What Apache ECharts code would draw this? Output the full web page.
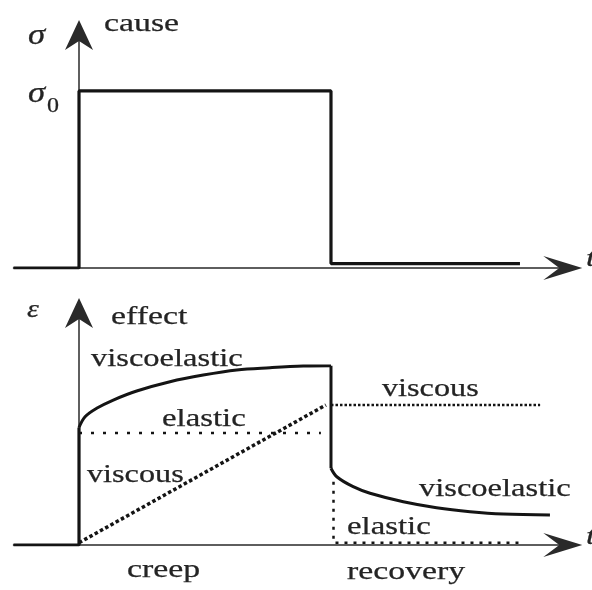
<!DOCTYPE html>
<html>
<head>
<meta charset="utf-8">
<script src="https://cdn.jsdelivr.net/npm/echarts@6/dist/echarts.min.js"></script>
<style>
  html, body { margin: 0; padding: 0; background: #fff; }
  #chart { width: 592px; height: 590px; }
</style>
</head>
<body>
<div id="chart"></div>
<script>
// Stress input (cause): a constant load σ0 applied at t = 0 and removed at t = 10
const stressPulse = [[-2.6, 0], [0, 0], [0, 1], [10, 1], [10, 0.025], [17.5, 0.025]];

// Strain response (effect), viscoelastic material
const strainLead = [[-2.6, 0], [0, 0], [0, 1.04]];
const strainCreep = [[0, 1.04], [0.24, 1.135], [0.70, 1.21], [1.36, 1.283], [2.29, 1.363], [3.61, 1.445], [4.93, 1.504], [6.26, 1.549], [7.58, 1.569], [8.90, 1.584], [10, 1.587]];
const strainDrop = [[10, 1.587], [10, 0.679]];
const strainRecovery = [[10, 0.679], [10.23, 0.604], [10.88, 0.516], [11.55, 0.458], [12.87, 0.383], [14.19, 0.330], [15.52, 0.295], [16.84, 0.274], [18.69, 0.265]];

// Ideal elastic and viscous responses for comparison
const elasticCreep = [[0, 0.99], [9.6, 0.99]];
const elasticRecovery = [[10.1, 0.56], [10.1, 0.02], [17.6, 0.02]];
const viscousCreep = [[0, 0.02], [9.8, 1.239]];
const viscousRecovery = [[10, 1.239], [18.3, 1.239]];

const INK = '#141414';
const TEXT = '#242424';
const SERIF = 'Liberation Serif';
const X_ARROW = 'path://M12,0L24,39L12,23L0,39Z';
const Y_ARROW = 'path://M14,0L28,30L14,21L0,30Z';

function xAxisCfg(gridIndex) {
  return {
    type: 'value', gridIndex, min: -2.6, max: 19.2,
    axisLine: { show: true, onZero: true, symbol: ['none', X_ARROW], symbolSize: [24, 39],
      lineStyle: { color: '#2a2a2a', width: 1.5 } },
    axisTick: { show: false }, axisLabel: { show: false }, splitLine: { show: false }
  };
}
function yAxisCfg(gridIndex, max) {
  return {
    type: 'value', gridIndex, min: 0, max,
    axisLine: { show: true, onZero: true, symbol: ['none', Y_ARROW], symbolSize: [28, 30],
      lineStyle: { color: '#2a2a2a', width: 1.5 } },
    axisTick: { show: false }, axisLabel: { show: false }, splitLine: { show: false }
  };
}
function line(data, xi, width, type, smooth) {
  return {
    type: 'line', xAxisIndex: xi, yAxisIndex: xi, data, symbol: 'none', silent: true,
    smooth: smooth ? 0.35 : false,
    lineStyle: { color: INK, width, type: type || 'solid' }, z: 5
  };
}
// Text placed by the top of its line box; y values are chosen per font size
function label(text, x, y, size, opts) {
  opts = opts || {};
  return {
    type: 'text', x, y, scaleX: opts.scaleX || 1.3, silent: true, z: 20,
    style: {
      text, fill: TEXT, stroke: TEXT, lineWidth: 0.25, align: 'left', verticalAlign: 'top',
      font: (opts.italic ? 'italic ' : '') + size + 'px "' + SERIF + '"'
    }
  };
}

const chart = echarts.init(document.getElementById('chart'), null, { renderer: 'canvas' });
chart.setOption({
  animation: false,
  backgroundColor: '#fff',
  grid: [
    { left: 13.5, right: 29.2, top: 35, bottom: 322 },
    { left: 13.5, right: 29.2, top: 313, bottom: 45 }
  ],
  xAxis: [xAxisCfg(0), xAxisCfg(1)],
  yAxis: [yAxisCfg(0, 1.316), yAxisCfg(1, 2.053)],
  series: [
    line(stressPulse, 0, 3.2),
    line(strainLead, 1, 3.2),
    line(strainCreep, 1, 3, 'solid', true),
    line(strainDrop, 1, 3),
    line(strainRecovery, 1, 3, 'solid', true),
    line(elasticCreep, 1, 2.5, [3, 9]),
    line(elasticRecovery, 1, 2.5, [3, 6]),
    line(viscousCreep, 1, 3.5, [3.5, 2.5]),
    line(viscousRecovery, 1, 2.5, [2.5, 2])
  ],
  graphic: [
    label('σ', 28, 22, 29, { italic: true, scaleX: 1.2 }),
    label('cause', 104, 11.5, 26),
    label('σ', 28, 80, 29, { italic: true, scaleX: 1.2 }),
    label('0', 47, 97, 20, { scaleX: 1.2 }),
    label('t', 586, 246.5, 26, { italic: true }),
    label('ε', 27, 297.5, 26, { italic: true, scaleX: 1.15 }),
    label('effect', 111, 304.5, 26),
    label('viscoelastic', 91, 346.5, 26, { scaleX: 1.25 }),
    label('elastic', 162, 406.5, 26, { scaleX: 1.26 }),
    label('viscous', 87, 462.5, 26, { scaleX: 1.24 }),
    label('creep', 127, 557.5, 26),
    label('viscous', 382, 376.5, 26, { scaleX: 1.24 }),
    label('viscoelastic', 419, 476.5, 26, { scaleX: 1.25 }),
    label('elastic', 347, 514.5, 26, { scaleX: 1.26 }),
    label('recovery', 347, 559.5, 26),
    label('t', 586, 524.5, 26, { italic: true })
  ]
});
</script>
</body>
</html>
